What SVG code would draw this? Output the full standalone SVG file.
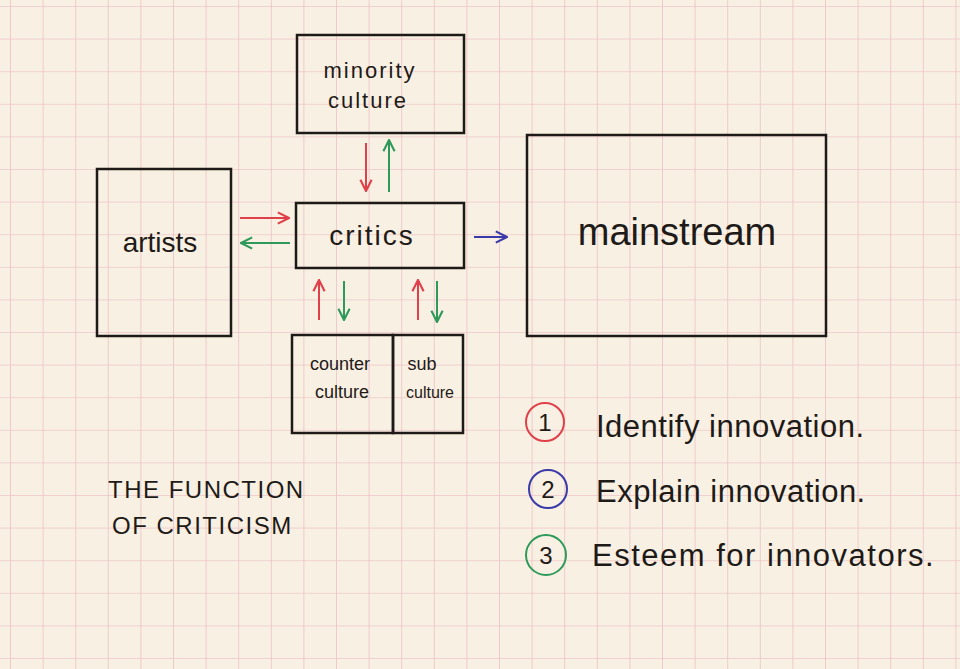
<svg xmlns="http://www.w3.org/2000/svg" width="960" height="669" viewBox="0 0 960 669">
<defs>
<pattern id="grid" width="32.6" height="32.6" patternUnits="userSpaceOnUse" x="10" y="6">
<path d="M0 0H32.6M0 0V32.6" fill="none" stroke="#eab2bd" stroke-width="1.2"/>
</pattern>
<marker id="ar" viewBox="0 0 10 10" refX="9" refY="5" markerWidth="7" markerHeight="7" orient="auto-start-reverse"><path d="M1 1L9 5L1 9" fill="none" stroke="context-stroke" stroke-width="1.5"/></marker>
</defs>
<style>
.box{fill:none;stroke:#1e1a18;stroke-width:2.5}
.t{font-family:"Liberation Sans",sans-serif;fill:#1e1a18}
.r{stroke:#e0404a;stroke-width:2;fill:none}
.g{stroke:#2e9a5a;stroke-width:2;fill:none}
.b{stroke:#3a3aa8;stroke-width:2;fill:none}
</style>
<rect width="960" height="669" fill="#f8f0e2"/>
<rect width="960" height="669" fill="url(#grid)"/>
<g id="minority"><rect class="box" x="297" y="35" width="167" height="98"/><text class="t" x="370" y="78" font-size="22" text-anchor="middle" letter-spacing="2">minority</text><text class="t" x="368" y="108" font-size="22" text-anchor="middle" letter-spacing="2">culture</text></g>
<g id="artists"><rect class="box" x="97" y="169" width="134" height="167"/><text class="t" x="160" y="252" font-size="28" text-anchor="middle">artists</text></g>
<g id="critics"><rect class="box" x="296" y="203" width="168" height="65"/><text class="t" x="372" y="245" font-size="28" text-anchor="middle" letter-spacing="2">critics</text></g>
<g id="mainstream"><rect class="box" x="527" y="135" width="299" height="201"/><text class="t" x="677" y="245" font-size="38" text-anchor="middle">mainstream</text></g>
<g id="counter"><rect class="box" x="292" y="335" width="101" height="98"/><text class="t" x="340" y="370" font-size="18" text-anchor="middle">counter</text><text class="t" x="342" y="398" font-size="18" text-anchor="middle">culture</text></g>
<g id="sub"><rect class="box" x="393" y="335" width="70" height="98"/><text class="t" x="422" y="370" font-size="18" text-anchor="middle">sub</text><text class="t" x="430" y="398" font-size="16" text-anchor="middle">culture</text></g>
<g id="connectors">
<line class="r" x1="240" y1="218" x2="289" y2="218" marker-end="url(#ar)"/>
<line class="g" x1="290" y1="243" x2="241" y2="243" marker-end="url(#ar)"/>
<line class="r" x1="366" y1="143" x2="366" y2="191" marker-end="url(#ar)"/>
<line class="g" x1="389" y1="192" x2="389" y2="140" marker-end="url(#ar)"/>
<line class="b" x1="474" y1="237" x2="507" y2="237" marker-end="url(#ar)"/>
<line class="r" x1="319" y1="320" x2="319" y2="280" marker-end="url(#ar)"/>
<line class="g" x1="344" y1="281" x2="344" y2="320" marker-end="url(#ar)"/>
<line class="r" x1="418" y1="320" x2="418" y2="280" marker-end="url(#ar)"/>
<line class="g" x1="437" y1="281" x2="437" y2="322" marker-end="url(#ar)"/>
</g>
<g id="title"><text class="t" x="108" y="498" font-size="24" letter-spacing="1.5">THE FUNCTION</text><text class="t" x="112" y="534" font-size="24" letter-spacing="1.5">OF CRITICISM</text></g>
<g id="legend">
<circle cx="545" cy="422" r="19" fill="none" stroke="#e0404a" stroke-width="2"/><text class="t" x="545" y="431" font-size="24" text-anchor="middle">1</text>
<text class="t" x="596" y="437" font-size="31" letter-spacing="0.5">Identify innovation.</text>
<circle cx="548" cy="489" r="19" fill="none" stroke="#3a3aa8" stroke-width="2"/><text class="t" x="548" y="498" font-size="24" text-anchor="middle">2</text>
<text class="t" x="596" y="502" font-size="31" letter-spacing="0.5">Explain innovation.</text>
<circle cx="546" cy="555" r="20" fill="none" stroke="#2e9a5a" stroke-width="2"/><text class="t" x="546" y="564" font-size="24" text-anchor="middle">3</text>
<text class="t" x="592" y="566" font-size="31" letter-spacing="1.5">Esteem for innovators.</text>
</g>
</svg>
